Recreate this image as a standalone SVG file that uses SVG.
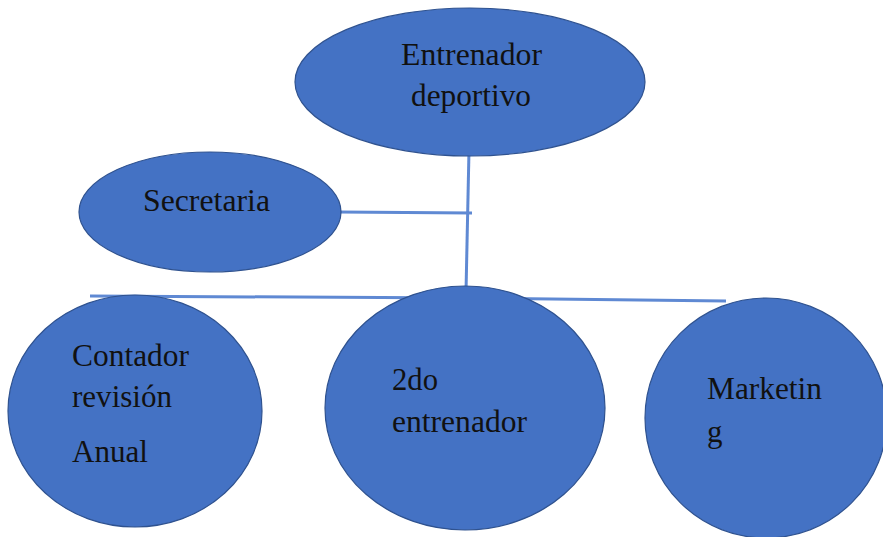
<svg xmlns="http://www.w3.org/2000/svg" width="883" height="537" viewBox="0 0 883 537">
<style>
.node{fill:#4472C4;stroke:#2F528F;stroke-width:1.2}
.lbl{font-family:"Liberation Serif","Times New Roman",serif;font-size:31px;fill:#111}
.conn{stroke:#5F89D3;stroke-width:3;fill:none}
</style>
<rect width="883" height="537" fill="#ffffff"/>
<g id="connectors">
<line class="conn" x1="469" y1="150" x2="466" y2="292"/>
<line class="conn" x1="338" y1="212" x2="472" y2="213"/>
<line class="conn" x1="90" y1="296" x2="466" y2="298"/>
<line class="conn" x1="466" y1="298" x2="726" y2="301"/>
</g>
<g id="entrenador">
<ellipse class="node" cx="470" cy="82" rx="175" ry="74"/>
<text class="lbl" x="401" y="65" textLength="141" lengthAdjust="spacingAndGlyphs">Entrenador</text>
<text class="lbl" x="411" y="106" textLength="120" lengthAdjust="spacingAndGlyphs">deportivo</text>
</g>
<g id="secretaria">
<ellipse class="node" cx="210" cy="212" rx="131" ry="60"/>
<text class="lbl" x="143" y="211" textLength="127" lengthAdjust="spacingAndGlyphs">Secretaria</text>
</g>
<g id="contador">
<ellipse class="node" cx="135" cy="411" rx="127" ry="116"/>
<text class="lbl" x="72" y="366" textLength="117" lengthAdjust="spacingAndGlyphs">Contador</text>
<text class="lbl" x="72" y="407" textLength="100" lengthAdjust="spacingAndGlyphs">revisión</text>
<text class="lbl" x="72" y="462" textLength="76" lengthAdjust="spacingAndGlyphs">Anual</text>
</g>
<g id="segundo">
<ellipse class="node" cx="465" cy="408" rx="140" ry="122"/>
<text class="lbl" x="392" y="390" textLength="46" lengthAdjust="spacingAndGlyphs">2do</text>
<text class="lbl" x="392" y="432" textLength="135" lengthAdjust="spacingAndGlyphs">entrenador</text>
</g>
<g id="marketing">
<ellipse class="node" cx="766" cy="418" rx="121" ry="120"/>
<text class="lbl" x="707" y="399" textLength="115" lengthAdjust="spacingAndGlyphs">Marketin</text>
<text class="lbl" x="707" y="442">g</text>
</g>
</svg>
